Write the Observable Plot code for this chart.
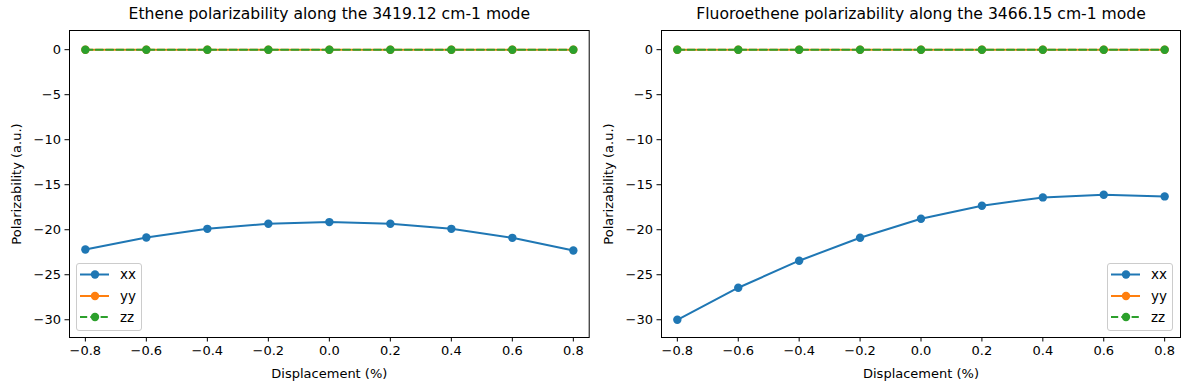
<!DOCTYPE html>
<html>
<head>
<meta charset="utf-8">
<script src="https://cdn.jsdelivr.net/npm/d3@7"></script>
<script src="https://cdn.jsdelivr.net/npm/@observablehq/plot@0.6"></script>
<style>
  html, body { margin: 0; padding: 0; background: white; }
  #root { position: relative; width: 1189px; height: 390px; font-family: "DejaVu Sans", sans-serif; }
  .panel { position: absolute; top: 0; }
  .legend { position: absolute; box-sizing: border-box; border: 1px solid #cccccc; border-radius: 3px; background: rgba(255,255,255,0.8); }
</style>
</head>
<body>
<div id="root"></div>
<script>
// ---- data ----
const displacement = [-0.8, -0.6, -0.4, -0.2, 0.0, 0.2, 0.4, 0.6, 0.8];
const etheneXX = [-22.2, -20.86, -19.9, -19.33, -19.15, -19.33, -19.9, -20.9, -22.3];
const etheneYY = [0, 0, 0, 0, 0, 0, 0, 0, 0];
const etheneZZ = [0, 0, 0, 0, 0, 0, 0, 0, 0];
const fluoroXX = [-30.0, -26.44, -23.44, -20.89, -18.78, -17.33, -16.41, -16.11, -16.3];
const fluoroYY = [0, 0, 0, 0, 0, 0, 0, 0, 0];
const fluoroZZ = [0, 0, 0, 0, 0, 0, 0, 0, 0];
const seriesNames = ["xx", "yy", "zz"];
const seriesColors = ["#1f77b4", "#ff7f0e", "#2ca02c"];
const xTicks = [-0.8, -0.6, -0.4, -0.2, 0.0, 0.2, 0.4, 0.6, 0.8];
const yTicks = [0, -5, -10, -15, -20, -25, -30];
const titles = [
  "Ethene polarizability along the 3419.12 cm-1 mode",
  "Fluoroethene polarizability along the 3466.15 cm-1 mode"
];
const xLabel = "Displacement (%)";
const yLabel = "Polarizability (a.u.)";

function rows(values) {
  return displacement.map((d, i) => ({x: d, y: values[i]}));
}

function panel({title, series, width, marginLeft, marginRight}) {
  const marks = [];
  series.forEach((vals, k) => {
    const data = rows(vals);
    marks.push(Plot.line(data, {
      x: "x", y: "y", stroke: seriesColors[k], strokeWidth: 2,
      strokeDasharray: k === 2 ? "7.2,3.1" : null, curve: "linear"
    }));
    marks.push(Plot.dot(data, {x: "x", y: "y", fill: seriesColors[k], r: 4.2, stroke: "none"}));
  });
  return Plot.plot({
    width, height: 390,
    marginLeft, marginRight, marginTop: 30, marginBottom: 53,
    style: {fontFamily: "DejaVu Sans, sans-serif", fontSize: "13px", color: "black", background: "white", overflow: "visible"},
    x: {domain: [-0.852, 0.852], ticks: xTicks, tickFormat: d3.format(".1f"), tickSize: 4.5, tickPadding: 4,
        label: xLabel, labelAnchor: "center", labelOffset: 40, labelArrow: false},
    y: {domain: [-31.97, 2.13], ticks: yTicks, tickFormat: d3.format("d"), tickSize: 4.5, tickPadding: 4,
        label: yLabel, labelAnchor: "center", labelOffset: 58, labelArrow: false},
    marks: [
      ...marks,
      Plot.frame({stroke: "black", strokeWidth: 1}),
      Plot.text([title], {frameAnchor: "top", dy: -17, text: d => d, fontSize: 15.6, lineAnchor: "middle", fill: "black"})
    ]
  });
}

function legend(left, top) {
  const w = 66, h = 68;
  const div = document.createElement("div");
  div.className = "legend";
  div.style.left = left + "px";
  div.style.top = top + "px";
  div.style.width = w + "px";
  div.style.height = h + "px";
  const svg = d3.create("svg").attr("width", w).attr("height", h).style("position", "absolute").style("left", "-1px").style("top", "-1px");
  const rowY = [11.5, 33, 54];
  seriesNames.forEach((name, k) => {
    const y = rowY[k];
    svg.append("line").attr("x1", 4).attr("x2", 33).attr("y1", y).attr("y2", y)
      .attr("stroke", seriesColors[k]).attr("stroke-width", 2)
      .attr("stroke-dasharray", k === 2 ? "7.2,3.1" : null);
    svg.append("circle").attr("cx", 19).attr("cy", y).attr("r", 4.2).attr("fill", seriesColors[k]);
    svg.append("text").attr("x", 44).attr("y", y).attr("dy", "0.35em")
      .attr("font-size", 13.5).attr("font-family", "DejaVu Sans, sans-serif").text(name);
  });
  div.appendChild(svg.node());
  return div;
}

const root = document.getElementById("root");
const p1 = panel({title: titles[0], series: [etheneXX, etheneYY, etheneZZ], width: 594, marginLeft: 69, marginRight: 5.3});
const p2 = panel({title: titles[1], series: [fluoroXX, fluoroYY, fluoroZZ], width: 595, marginLeft: 67, marginRight: 9});
const w1 = document.createElement("div"); w1.className = "panel"; w1.style.left = "0px"; w1.appendChild(p1);
const w2 = document.createElement("div"); w2.className = "panel"; w2.style.left = "594px"; w2.appendChild(p2);
root.appendChild(w1);
root.appendChild(w2);
root.appendChild(legend(76, 263));
root.appendChild(legend(1107, 263));
</script>
</body>
</html>
